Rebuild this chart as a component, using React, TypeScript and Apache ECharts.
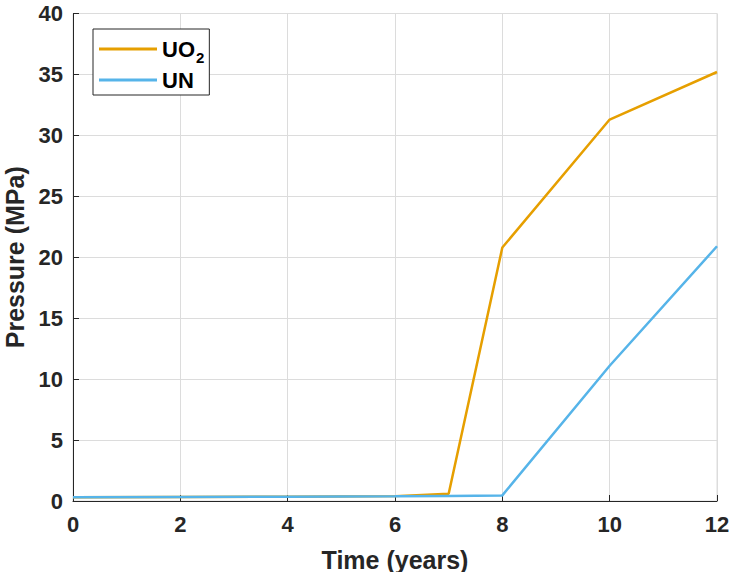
import React, { useEffect, useRef } from "react";
import * as echarts from "echarts";

// Time points (years) and gas pressure (MPa) for each fuel type
const years = [0, 2, 4, 6, 7, 8, 10, 12];
const uo2Pressure = [0.3, 0.32, 0.35, 0.4, 0.6, 20.8, 31.3, 35.2];
const unPressure = [0.3, 0.32, 0.35, 0.38, 0.42, 0.46, 11.1, 20.9];
const xTicks = [0, 2, 4, 6, 8, 10, 12];
const yTicks = [0, 5, 10, 15, 20, 25, 30, 35, 40];

const FONT = "'Liberation Sans', Arial, Helvetica, sans-serif";
const AXIS_COLOR = "#262626";

export default function App() {
  const ref = useRef<HTMLDivElement>(null);

  useEffect(() => {
    if (!ref.current) return;
    const chart = echarts.init(ref.current, undefined, { renderer: "svg" });
    const pair = (vals: number[]) => years.map((x, i) => [x, vals[i]]);

    chart.setOption({
      animation: false,
      backgroundColor: "#ffffff",
      grid: {
        left: 73,
        right: 15,
        top: 13.5,
        bottom: 71,
        containLabel: false,
        outerBoundsMode: "none",
        show: true,
        borderColor: "#dcdcdc",
        borderWidth: 1,
      },
      legend: {
        left: 93,
        top: 29,
        orient: "vertical",
        backgroundColor: "#ffffff",
        borderColor: "#262626",
        borderWidth: 1,
        borderRadius: 0,
        padding: [9, 5, 4, 6],
        itemGap: 4,
        itemWidth: 58,
        itemHeight: 3,
        icon: "rect",
        formatter: (name: string) =>
          name === "UO2" ? "{main|UO}{sub|2}" : "{main|" + name + "}",
        textStyle: {
          rich: {
            main: {
              fontFamily: FONT,
              fontWeight: "bold",
              fontSize: 22,
              lineHeight: 22,
              verticalAlign: "top",
              color: "#000000",
            },
            sub: {
              fontFamily: FONT,
              fontWeight: "bold",
              fontSize: 15,
              lineHeight: 15,
              verticalAlign: "top",
              color: "#000000",
              padding: [12, 0, 0, 1],
            },
          },
        },
        data: ["UO2", "UN"],
      },
      xAxis: {
        type: "value",
        min: 0,
        max: 12,
        interval: 2,
        name: "Time (years)",
        nameLocation: "middle",
        nameGap: 46,
        nameTextStyle: {
          fontFamily: FONT,
          fontWeight: "bold",
          fontSize: 25,
          color: AXIS_COLOR,
        },
        axisLine: { show: true, onZero: false, lineStyle: { color: AXIS_COLOR, width: 1 } },
        axisTick: { show: true, inside: true, length: 6, lineStyle: { color: AXIS_COLOR } },
        axisLabel: {
          fontFamily: FONT,
          fontWeight: "bold",
          fontSize: 22,
          color: AXIS_COLOR,
          margin: 12,
          customValues: xTicks,
        },
        splitLine: { show: true, lineStyle: { color: "#dcdcdc", width: 1 } },
      },
      yAxis: {
        type: "value",
        min: 0,
        max: 40,
        interval: 5,
        name: "Pressure (MPa)",
        nameLocation: "middle",
        nameGap: 40,
        nameTextStyle: {
          fontFamily: FONT,
          fontWeight: "bold",
          fontSize: 25,
          color: AXIS_COLOR,
        },
        axisLine: { show: true, lineStyle: { color: AXIS_COLOR, width: 1 } },
        axisTick: { show: true, inside: true, length: 6, lineStyle: { color: AXIS_COLOR } },
        axisLabel: {
          fontFamily: FONT,
          fontWeight: "bold",
          fontSize: 22,
          color: AXIS_COLOR,
          margin: 10,
          customValues: yTicks,
        },
        splitLine: { show: true, lineStyle: { color: "#dcdcdc", width: 1 } },
      },
      series: [
        {
          name: "UO2",
          type: "line",
          data: pair(uo2Pressure),
          showSymbol: false,
          lineStyle: { color: "#E69F00", width: 2.5 },
          itemStyle: { color: "#E69F00" },
        },
        {
          name: "UN",
          type: "line",
          data: pair(unPressure),
          showSymbol: false,
          lineStyle: { color: "#56B4E9", width: 2.5 },
          itemStyle: { color: "#56B4E9" },
        },
      ],
    });

    return () => chart.dispose();
  }, []);

  return (
    <div
      ref={ref}
      style={{ position: "absolute", left: 0, top: 0, width: 732, height: 572 }}
    />
  );
}
